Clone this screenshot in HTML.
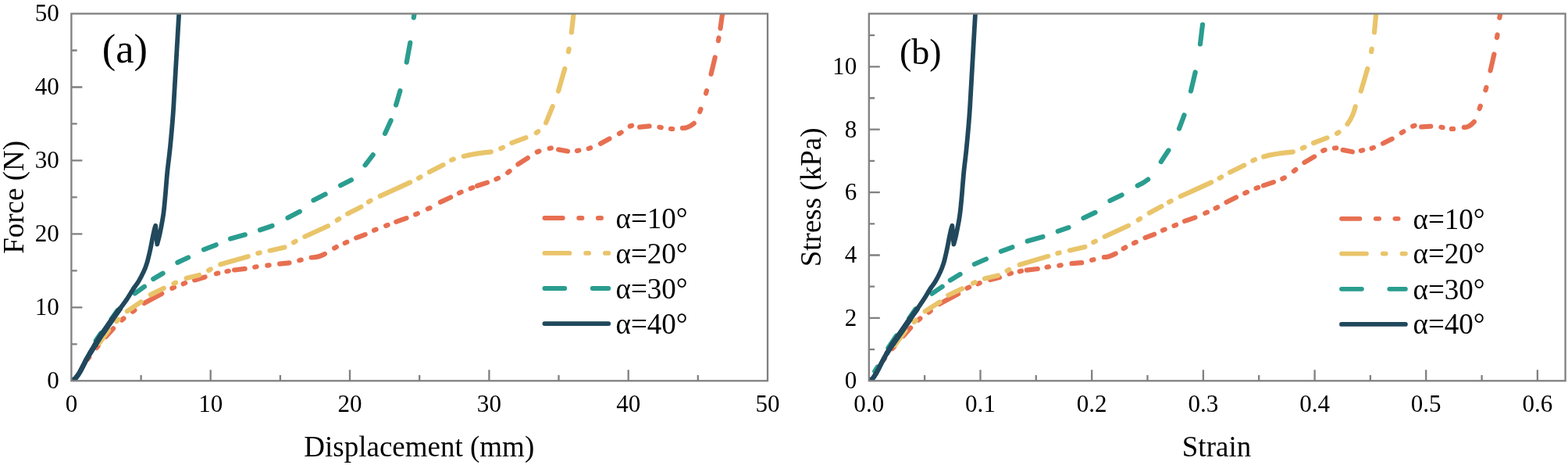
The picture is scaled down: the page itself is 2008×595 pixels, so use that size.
<!DOCTYPE html>
<html lang="en"><head><meta charset="utf-8"><title>Force-displacement and stress-strain curves</title>
<style>html,body{margin:0;padding:0;background:#fff;}body{width:2008px;height:595px;overflow:hidden;}svg{display:block;}text{font-family:'Liberation Serif','Times New Roman',serif;fill:#000;}</style></head><body>
<svg width="2008" height="595" viewBox="0 0 2008 595">
<rect width="2008" height="595" fill="#fff"/>
<g id="panel-a">
<defs><clipPath id="clip-a"><rect x="91.4" y="17.5" width="891.6" height="469.8"/></clipPath></defs>
<path d="M269.7 487.3V473.3M448 487.3V473.3M626.4 487.3V473.3M804.7 487.3V473.3M180.6 487.3V480M358.9 487.3V480M537.2 487.3V480M715.5 487.3V480M893.8 487.3V480M91.4 393.3H105.4M91.4 299.4H105.4M91.4 205.4H105.4M91.4 111.5H105.4M91.4 440.3H98.7M91.4 346.4H98.7M91.4 252.4H98.7M91.4 158.4H98.7M91.4 64.5H98.7" stroke="#808080" stroke-width="2.3" fill="none"/>
<g clip-path="url(#clip-a)" fill="none" stroke-width="6.2" stroke-linecap="round" stroke-linejoin="round">
<path d="M112.2 459.7L114.2 457.1M123.6 445.1L125.6 442.5M135.5 431L145.1 420.4M156 409.5L158.4 407.5M169.9 398.7L172.3 396.9M184.5 387.9L207.3 375.8M220.4 368.9L223 367.7M234.7 363.2L237.1 362.2M249.1 358.4L262.6 354.5M276.9 350.2L279.3 349.6M290.4 347.2L292.8 346.8M300.1 345.5L313.6 343.9M326.2 341.7L328.6 341.3M342.4 339.6L344.6 339.4M358.2 337.6L370.4 336.3M383.3 333.2L385.7 332.6M398.7 329.5Q407.3 329.7 415.9 325M428.2 317.5L430.8 316.1M441.7 311L444.3 309.8M456.2 304.4L467.7 300.2M479 294.7L481.6 293.7M494.2 288.9L496.6 287.9M507.2 283.8L520.5 279.1M532.2 274.4L534.8 273.2M547.9 267.3L550.5 266.1M564 258.6L577.2 252.5M588 247L590.6 245.8M602.7 241.2L605.3 240.2M611.1 237.8L624 233.6M635.4 229.2L638 228M650.2 220.9L652.6 219.1M663.4 210.2L675.9 202.1M687.8 194.5L690.4 193.5M703.7 189.9L705.9 189.5M715.1 191.4L727.1 193.5M739 192.9L741.4 192.5M753.7 190.1L756.1 189.3M769.1 183.7L780.5 177.5M793 171L795.6 169.4M806.7 161.5L809.1 160.7M819.2 162.6L831.5 161.4M844.4 162.7L846.8 163.1M859 164.8L861.2 165M874 163.9Q881.2 164.1 888.7 157.8M896.2 143L897.4 139.6M904 119.5L905 116.1M910.6 94.8L915.7 73.4M919.9 52.1L920.5 48.5M922.5 36.3L925.6 13.9" stroke="#E76F51"/>
<path d="M127.2 439.3L139.1 422.5M149.4 411.1L151.6 408.7M162.9 398.3L180.6 386.2M192.9 377.1L209.8 368.8M222.5 362.8L225.1 361.6M238.6 356.1L255.1 352M267.2 345.9L269.8 344.5M282.3 338.3L317.7 328.2M330.3 324.1L332.7 323.5M345.5 320.7L364.5 316.5M376 310.2L378.6 308.8M390.4 302.7L419.9 289.3M431.8 281.7L434.2 280.1M445.2 273.4L462.4 264.7M472 258.2L474.6 256.8M486.8 250.9L525.2 233.4M536 227.9L538.6 226.5M550 220L567.5 211.1M578.1 204.8L580.7 203.6M593.7 199.9Q609.8 196.1 628.8 194.4M641.4 189.9L644 188.7M655.3 182.8L673.5 176.1M686.8 170L689.2 168.2M699.2 157.2L707.7 136.2M715 116.6L723.3 87.9M728 66.2L728.6 62.6M731.9 41.4L735 13.9" stroke="#E9C46A"/>
<path d="M122.7 435.8L129.3 426.2M142.7 408.3L150.3 397.2M172.6 375.5L184.9 366.8M196.3 357L208.6 349.8M227.4 335.9L241.1 329.5M261 319.4L276.7 313.3M295 305.5L313.8 300.3M333 294.2L348.6 289M368.5 278.8L383.8 270.8M401.5 256.3L416.6 248.6M436.1 237.2L449.9 230.3M467.6 211.3L477.7 198.1M493.1 170.8L500.6 154.2M507.1 134.4L512.4 116.2M520.7 79.7L525.3 54.6M529.8 22.6L531.2 13.9" stroke="#2A9D8F"/>
<path d="M91.4 487.3C91.8 487.1 93.2 486.4 94 485.9C94.8 485.4 95.7 485 96.5 484.2C97.3 483.4 98 482.5 98.9 481.2C99.8 479.9 100.8 478.6 102 476.5C103.2 474.4 104.8 471.3 106.3 468.4C107.8 465.5 109.6 461.9 111.1 459.2C112.6 456.5 113.5 454.9 115.3 452C117.1 449.1 119.5 445.1 121.8 441.5C124 437.9 126.9 433 128.8 430.1C130.7 427.2 130.7 427.6 133.2 424C135.7 420.4 140.6 413.2 144 408.4C147.4 403.6 151.8 397.6 153.4 395.4" stroke="#21485C" stroke-width="6.5"/>
<path d="M115.3 452C116.4 450.2 119.5 445.1 121.8 441.5C124 437.9 126.9 433 128.8 430.1C130.7 427.2 130.7 427.6 133.2 424C135.7 420.4 140.6 413.2 144 408.4C147.4 403.6 151.8 397.6 153.4 395.4" stroke="#21485C" stroke-width="6.6"/>
<path d="M121.8 441.5C123 439.6 126.9 433 128.8 430.1C130.7 427.2 130.7 427.6 133.2 424C135.7 420.4 142.2 411 144 408.4" stroke="#21485C" stroke-width="7.2"/>
<path d="M91.4 487.3C91.8 487.1 93.2 486.4 94 485.9C94.8 485.4 95.7 485 96.5 484.2C97.3 483.4 98 482.5 98.9 481.2C99.8 479.9 100.8 478.6 102 476.5C103.2 474.4 104.8 471.3 106.3 468.4C107.8 465.5 109.6 461.9 111.1 459.2C112.6 456.5 113.5 454.9 115.3 452C117.1 449.1 119.5 445.1 121.8 441.5C124 437.9 126.9 433 128.8 430.1C130.7 427.2 130.7 427.6 133.2 424C135.7 420.4 140.6 413.2 144 408.4C147.4 403.6 150.2 399.8 153.4 395.4C156.6 391 160.4 386 163 382.1C165.6 378.2 167.7 374.5 169.2 372.1C170.7 369.7 170.8 369.5 172.2 367.5C173.6 365.5 175.5 363.3 177.5 360C179.5 356.7 182.2 351.4 184 347.6C185.8 343.8 187.1 339.9 188 337.1C188.9 334.3 189 333.9 189.7 331C190.4 328.1 191.5 323.9 192.3 320C193.2 316.1 194 311.5 194.8 307.4C195.6 303.3 196.6 298.4 197.3 295.3C198 292.2 199.2 288.8 199.2 288.8C199.2 288.8 201.3 312.6 201.3 312.6C201.3 312.6 203.4 304.9 204.4 300.3C205.4 295.7 206.6 289.7 207.4 285.2C208.2 280.7 208.8 277.3 209.4 273.1C210 268.9 210.4 264.4 210.8 260C211.2 255.7 211.4 253.8 212 247C212.6 240.2 213.4 228.8 214.4 218.9C215.4 209 216.8 199.5 218 187.4C219.2 175.3 220.7 158.7 221.6 146.3C222.5 133.9 222.3 135.4 223.6 113C224.9 90.6 228.5 28.8 229.5 12" stroke="#21485C" stroke-width="5.8"/>
</g>
<rect x="91.4" y="17.5" width="891.6" height="469.8" fill="none" stroke="#808080" stroke-width="2.3"/>
<text transform="translate(91.4 527.2) scale(0.96 1)" font-size="32.4" text-anchor="middle">0</text>
<text transform="translate(269.7 527.2) scale(0.96 1)" font-size="32.4" text-anchor="middle">10</text>
<text transform="translate(448 527.2) scale(0.96 1)" font-size="32.4" text-anchor="middle">20</text>
<text transform="translate(626.4 527.2) scale(0.96 1)" font-size="32.4" text-anchor="middle">30</text>
<text transform="translate(804.7 527.2) scale(0.96 1)" font-size="32.4" text-anchor="middle">40</text>
<text transform="translate(983 527.2) scale(0.96 1)" font-size="32.4" text-anchor="middle">50</text>
<text transform="translate(75.8 497.1) scale(0.96 1)" font-size="32.4" text-anchor="end">0</text>
<text transform="translate(75.8 403.1) scale(0.96 1)" font-size="32.4" text-anchor="end">10</text>
<text transform="translate(75.8 309.2) scale(0.96 1)" font-size="32.4" text-anchor="end">20</text>
<text transform="translate(75.8 215.2) scale(0.96 1)" font-size="32.4" text-anchor="end">30</text>
<text transform="translate(75.8 121.3) scale(0.96 1)" font-size="32.4" text-anchor="end">40</text>
<text transform="translate(75.8 27.3) scale(0.96 1)" font-size="32.4" text-anchor="end">50</text>
<text x="536.8" y="584.2" font-size="37.0" text-anchor="middle">Displacement (mm)</text>
<text transform="translate(29.5 252.4) rotate(-90)" font-size="37.0" text-anchor="middle">Force (N)</text>
<text x="130.8" y="80.2" font-size="52.5">(a)</text>
<path d="M697.4 279H779.3" stroke="#E76F51" stroke-width="5.8" stroke-linecap="round" fill="none" stroke-dasharray="23.4 20.4 4.3 20.3 4.3 20.5"/>
<text x="788.6" y="291.8" font-size="37.0">α=10°</text>
<path d="M697.4 323.9H779.3" stroke="#E9C46A" stroke-width="5.8" stroke-linecap="round" fill="none" stroke-dasharray="32 20.8 3.9 20.8 31.4 21.1"/>
<text x="788.6" y="336.7" font-size="37.0">α=20°</text>
<path d="M697.4 369H779.3" stroke="#2A9D8F" stroke-width="5.8" stroke-linecap="round" fill="none" stroke-dasharray="25.9 35.4"/>
<text x="788.6" y="381.8" font-size="37.0">α=30°</text>
<path d="M697.4 414.1H779.3" stroke="#21485C" stroke-width="5.8" stroke-linecap="round" fill="none"/>
<text x="788.6" y="426.7" font-size="37.0">α=40°</text>
</g>
<g id="panel-b">
<defs><clipPath id="clip-b"><rect x="1112.8" y="17.5" width="891.8" height="469.8"/></clipPath></defs>
<path d="M1255.5 487.3V473.3M1398.2 487.3V473.3M1540.9 487.3V473.3M1683.6 487.3V473.3M1826.2 487.3V473.3M1968.9 487.3V473.3M1184.1 487.3V480M1326.8 487.3V480M1469.5 487.3V480M1612.2 487.3V480M1754.9 487.3V480M1897.6 487.3V480M1112.8 406.9H1126.8M1112.8 326.5H1126.8M1112.8 246.1H1126.8M1112.8 165.7H1126.8M1112.8 85.3H1126.8M1112.8 447.1H1120.1M1112.8 366.7H1120.1M1112.8 286.3H1120.1M1112.8 205.9H1120.1M1112.8 125.5H1120.1M1112.8 45.1H1120.1" stroke="#808080" stroke-width="2.3" fill="none"/>
<g clip-path="url(#clip-b)" fill="none" stroke-width="6.2" stroke-linecap="round" stroke-linejoin="round">
<path d="M1131 461.1L1133 458.5M1142.9 446.1L1145.1 443.5M1156.8 430L1166.1 419.5M1176 409.5L1178.4 407.5M1189.3 399.7L1191.7 397.9M1203 388.9L1227.1 376.1M1238.5 368.7L1241.1 367.5M1252.3 363.2L1254.7 362.2M1268.1 358L1279.9 355.1M1292.6 350.4L1295 349.6M1305.7 347.3L1308.1 346.7M1314.9 345.6L1328.8 344M1340.6 341.8L1343 341.4M1356.3 339.8L1358.7 339.4M1372.6 337.2L1385.2 336.2M1398.1 332.8L1400.5 332.2M1413.9 329Q1419.5 329.3 1428.7 324.4M1438.7 318L1441.3 316.6M1452.1 311.1L1454.7 309.9M1466.6 304.2L1478.1 299.8M1489 294.7L1491.6 293.7M1503.5 288.8L1506.1 287.8M1517.1 282.9L1530.5 278.4M1543.3 272.8L1545.9 271.6M1556.6 266.6L1559.2 265.2M1570.6 258.8L1583 252.5M1594.3 247.1L1596.9 245.9M1608.6 240.9L1611.2 239.9M1618 237.4L1630.9 233.1M1642.3 228.8L1644.9 227.4M1656.9 218.9L1659.3 217.1M1670.5 207.9L1683.2 200.4M1694.2 192.9L1696.6 191.9M1709 189.5L1711.2 189.3M1719.6 191.9L1731.9 194.3M1742.8 192.8L1745.2 192.2M1756.6 189.7L1759 188.9M1771.1 183.5L1782.7 177.7M1794.8 169.9L1797.4 168.3M1809.2 161.5L1811.6 160.7M1820.2 162.3L1832.2 161.7M1845.4 162.7L1847.6 163.1M1858.9 164.9L1861.1 164.9M1874.9 162.9Q1880.9 163.6 1887.8 155.9M1894.6 139L1895.8 135.6M1902.4 115.4L1903.4 112M1908.6 90.4L1913.4 69.4M1917 48.1L1917.6 44.5M1920.3 22.8L1921.9 13.9" stroke="#E76F51"/>
<path d="M1145.8 441.8L1159.5 423.2M1170.6 412L1172.8 409.8M1184.7 398.3L1203.5 386.4M1214.3 377.8L1232.1 369.4M1246 362.5L1248.6 361.3M1261 356.5L1278.2 352.4M1289.7 346.5L1292.3 345.1M1305.7 338.8L1342.2 327.9M1354.3 324.1L1356.7 323.5M1369.8 320.4L1389.4 316M1400.3 310.1L1402.9 308.7M1414.7 302.7L1445 288.8M1457.7 281.4L1460.1 279.8M1471.8 272.4L1487.5 264.1M1497.1 258.6L1499.7 257.2M1511.7 251.3L1551.2 233.4M1561.6 227.9L1564.2 226.5M1575 220.5L1593.3 211.5M1604.4 205.5L1607 204.3M1618.2 200.5Q1631 196.6 1655.8 194.4M1667.9 189.6L1670.5 188.4M1682 183L1699.5 176.4M1712.1 170.8L1714.5 169.2M1725.5 158.8Q1733 148.7 1735.7 136.3M1742.8 116.6L1751.3 87.9M1756.1 66.2L1756.7 62.6M1760 41.4L1762.6 13.9" stroke="#E9C46A"/>
<path d="M1120.2 475.1L1123.8 469.5M1137.4 445.3L1148 429.5M1164.4 407L1172.4 395.5M1193.5 375.7L1206.7 366.8M1216.9 358.6L1229.6 350.9M1247.9 338L1262.9 331.5M1281.9 321.7L1296.4 316.3M1315.7 308.6L1335.5 303M1354.8 295.9L1368.5 291.1M1387.5 279L1402.5 271.9M1421.5 256.8L1436.6 249.5M1456.7 237.6Q1464.1 234.4 1470.2 229.6M1486.8 207L1496.4 192.4M1510 164.6L1516.5 147.3M1525 116.6L1530.7 92.5M1537 56.5L1540 31.5" stroke="#2A9D8F"/>
<path d="M1112.8 487.3C1113.2 487.1 1114.5 486.4 1115.3 485.9C1116.1 485.4 1116.9 485 1117.6 484.2C1118.4 483.4 1118.9 482.5 1119.8 481.2C1120.6 479.9 1121.5 478.6 1122.7 476.5C1123.9 474.4 1125.4 471.3 1126.9 468.4C1128.4 465.5 1130.2 461.9 1131.7 459.2C1133.2 456.5 1134 454.9 1135.8 452C1137.6 449.1 1140 445.1 1142.4 441.5C1144.8 437.9 1148.2 433 1150.3 430.1C1152.3 427.2 1152.1 427.6 1154.6 424C1157.1 420.4 1162 413.2 1165.3 408.4C1168.6 403.6 1173 397.6 1174.6 395.4" stroke="#21485C" stroke-width="6.1"/>
<path d="M1135.8 452C1136.9 450.2 1140 445.1 1142.4 441.5C1144.8 437.9 1148.2 433 1150.3 430.1C1152.3 427.2 1152.1 427.6 1154.6 424C1157.1 420.4 1162 413.2 1165.3 408.4C1168.6 403.6 1173 397.6 1174.6 395.4" stroke="#21485C" stroke-width="6.6"/>
<path d="M1142.4 441.5C1143.7 439.6 1148.2 433 1150.3 430.1C1152.3 427.2 1152.1 427.6 1154.6 424C1157.1 420.4 1163.5 411 1165.3 408.4" stroke="#21485C" stroke-width="7.2"/>
<path d="M1112.8 487.3C1113.2 487.1 1114.5 486.4 1115.3 485.9C1116.1 485.4 1116.9 485 1117.6 484.2C1118.4 483.4 1118.9 482.5 1119.8 481.2C1120.6 479.9 1121.5 478.6 1122.7 476.5C1123.9 474.4 1125.4 471.3 1126.9 468.4C1128.4 465.5 1130.2 461.9 1131.7 459.2C1133.2 456.5 1134 454.9 1135.8 452C1137.6 449.1 1140 445.1 1142.4 441.5C1144.8 437.9 1148.2 433 1150.3 430.1C1152.3 427.2 1152.1 427.6 1154.6 424C1157.1 420.4 1162 413.2 1165.3 408.4C1168.6 403.6 1171.5 399.8 1174.6 395.4C1177.6 391 1181.1 386 1183.6 382.1C1186.1 378.2 1188.2 374.5 1189.7 372.1C1191.2 369.7 1191.3 369.5 1192.7 367.5C1194 365.5 1196 363.3 1197.9 360C1199.9 356.7 1202.6 351.4 1204.3 347.6C1206.1 343.8 1207.4 339.9 1208.3 337.1C1209.2 334.3 1209.3 333.9 1210 331C1210.7 328.1 1211.7 323.9 1212.5 320C1213.4 316.1 1214.2 311.5 1215 307.4C1215.8 303.3 1216.8 298.4 1217.5 295.3C1218.2 292.2 1219.4 288.8 1219.4 288.8C1219.4 288.8 1221.4 312.6 1221.4 312.6C1221.4 312.6 1223.5 304.9 1224.5 300.3C1225.5 295.7 1226.6 289.7 1227.5 285.2C1228.3 280.7 1228.9 277.3 1229.4 273.1C1230 268.9 1230.4 264.4 1230.8 260C1231.3 255.7 1231.4 253.8 1232 247C1232.6 240.2 1233.4 228.8 1234.4 218.9C1235.4 209 1236.8 199.5 1237.9 187.4C1239.1 175.3 1240.6 158.7 1241.5 146.3C1242.4 133.9 1242.2 135.4 1243.5 113C1244.8 90.6 1248.3 28.8 1249.3 12" stroke="#21485C" stroke-width="5.8"/>
</g>
<rect x="1112.8" y="17.5" width="891.8" height="469.8" fill="none" stroke="#808080" stroke-width="2.3"/>
<text transform="translate(1112.8 527.2) scale(0.96 1)" font-size="32.4" text-anchor="middle">0.0</text>
<text transform="translate(1255.5 527.2) scale(0.96 1)" font-size="32.4" text-anchor="middle">0.1</text>
<text transform="translate(1398.2 527.2) scale(0.96 1)" font-size="32.4" text-anchor="middle">0.2</text>
<text transform="translate(1540.9 527.2) scale(0.96 1)" font-size="32.4" text-anchor="middle">0.3</text>
<text transform="translate(1683.6 527.2) scale(0.96 1)" font-size="32.4" text-anchor="middle">0.4</text>
<text transform="translate(1826.2 527.2) scale(0.96 1)" font-size="32.4" text-anchor="middle">0.5</text>
<text transform="translate(1968.9 527.2) scale(0.96 1)" font-size="32.4" text-anchor="middle">0.6</text>
<text transform="translate(1097.2 497.1) scale(0.96 1)" font-size="32.4" text-anchor="end">0</text>
<text transform="translate(1097.2 416.7) scale(0.96 1)" font-size="32.4" text-anchor="end">2</text>
<text transform="translate(1097.2 336.3) scale(0.96 1)" font-size="32.4" text-anchor="end">4</text>
<text transform="translate(1097.2 255.9) scale(0.96 1)" font-size="32.4" text-anchor="end">6</text>
<text transform="translate(1097.2 175.5) scale(0.96 1)" font-size="32.4" text-anchor="end">8</text>
<text transform="translate(1097.2 95.1) scale(0.96 1)" font-size="32.4" text-anchor="end">10</text>
<text x="1558" y="584.2" font-size="37.0" text-anchor="middle">Strain</text>
<text transform="translate(1051 252.4) rotate(-90)" font-size="37.0" text-anchor="middle">Stress (kPa)</text>
<text x="1152" y="81.5" font-size="46">(b)</text>
<path d="M1718 279.8H1799.9" stroke="#E76F51" stroke-width="5.8" stroke-linecap="round" fill="none" stroke-dasharray="23.4 20.4 4.3 20.3 4.3 20.5"/>
<text x="1809.6" y="292.6" font-size="37.0">α=10°</text>
<path d="M1718 324.6H1799.9" stroke="#E9C46A" stroke-width="5.8" stroke-linecap="round" fill="none" stroke-dasharray="32 20.8 3.9 20.8 31.4 21.1"/>
<text x="1809.6" y="337.4" font-size="37.0">α=20°</text>
<path d="M1718 369.8H1799.9" stroke="#2A9D8F" stroke-width="5.8" stroke-linecap="round" fill="none" stroke-dasharray="25.9 35.4"/>
<text x="1809.6" y="382.6" font-size="37.0">α=30°</text>
<path d="M1718 414.9H1799.9" stroke="#21485C" stroke-width="5.8" stroke-linecap="round" fill="none"/>
<text x="1809.6" y="427.4" font-size="37.0">α=40°</text>
</g>
</svg></body></html>
